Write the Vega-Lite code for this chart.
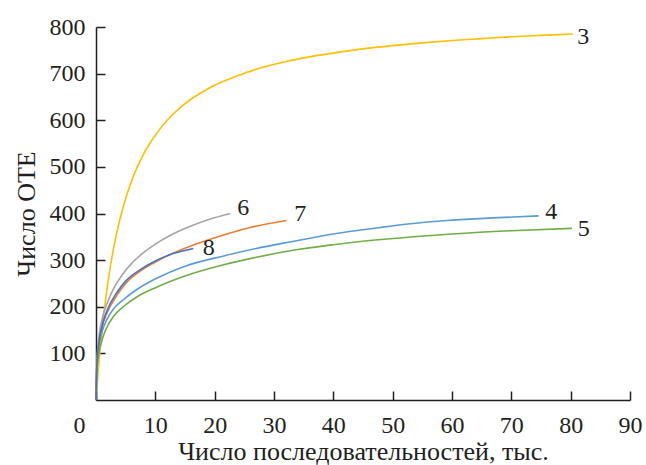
{
  "$schema": "https://vega.github.io/schema/vega-lite/v6.json",
  "width": 534,
  "height": 373,
  "autosize": "none",
  "padding": {"left": 96, "top": 27, "right": 16, "bottom": 65},
  "background": "white",
  "config": {
    "view": {"stroke": null},
    "font": "Liberation Serif",
    "axis": {
      "grid": false,
      "domainColor": "#231f20",
      "domainWidth": 1.5,
      "tickColor": "#231f20",
      "tickWidth": 1.5,
      "tickSize": -9,
      "labelFont": "Liberation Serif",
      "labelFontSize": 24,
      "labelColor": "#231f20",
      "titleFont": "Liberation Serif",
      "titleFontSize": 26,
      "titleFontWeight": "normal",
      "titleColor": "#231f20"
    }
  },
  "datasets": {
    "curves": [
      {"s": "3", "x": 0, "y": 0}, {"s": "3", "x": 0.2, "y": 35}, {"s": "3", "x": 0.5, "y": 81}, {"s": "3", "x": 1, "y": 148}, {"s": "3", "x": 1.5, "y": 204}, {"s": "3", "x": 2, "y": 251}, {"s": "3", "x": 3, "y": 328}, {"s": "3", "x": 4, "y": 386}, {"s": "3", "x": 5, "y": 432}, {"s": "3", "x": 6, "y": 470}, {"s": "3", "x": 7, "y": 501}, {"s": "3", "x": 8, "y": 527}, {"s": "3", "x": 9, "y": 549}, {"s": "3", "x": 10, "y": 568}, {"s": "3", "x": 12, "y": 600}, {"s": "3", "x": 14, "y": 625}, {"s": "3", "x": 16, "y": 645}, {"s": "3", "x": 18, "y": 661}, {"s": "3", "x": 20, "y": 675}, {"s": "3", "x": 24, "y": 696}, {"s": "3", "x": 28, "y": 713}, {"s": "3", "x": 32, "y": 726}, {"s": "3", "x": 36, "y": 736}, {"s": "3", "x": 40, "y": 744}, {"s": "3", "x": 45, "y": 753}, {"s": "3", "x": 50, "y": 760}, {"s": "3", "x": 55, "y": 766}, {"s": "3", "x": 60, "y": 771}, {"s": "3", "x": 65, "y": 775}, {"s": "3", "x": 70, "y": 779}, {"s": "3", "x": 75, "y": 782}, {"s": "3", "x": 80.4, "y": 785},
      {"s": "4", "x": 0, "y": 0}, {"s": "4", "x": 0.15, "y": 70}, {"s": "4", "x": 0.5, "y": 115}, {"s": "4", "x": 1, "y": 145}, {"s": "4", "x": 1.8, "y": 172}, {"s": "4", "x": 3, "y": 196}, {"s": "4", "x": 4.6, "y": 215}, {"s": "4", "x": 7, "y": 238}, {"s": "4", "x": 10.2, "y": 261}, {"s": "4", "x": 15, "y": 287}, {"s": "4", "x": 21.5, "y": 309}, {"s": "4", "x": 27, "y": 325}, {"s": "4", "x": 32.7, "y": 339}, {"s": "4", "x": 40, "y": 356}, {"s": "4", "x": 47.9, "y": 370}, {"s": "4", "x": 53, "y": 378}, {"s": "4", "x": 59.1, "y": 385}, {"s": "4", "x": 66, "y": 390}, {"s": "4", "x": 74.6, "y": 395},
      {"s": "5", "x": 0, "y": 0}, {"s": "5", "x": 0.15, "y": 60}, {"s": "5", "x": 0.5, "y": 100}, {"s": "5", "x": 1, "y": 128}, {"s": "5", "x": 1.8, "y": 155}, {"s": "5", "x": 3, "y": 180}, {"s": "5", "x": 4.6, "y": 200}, {"s": "5", "x": 7, "y": 222}, {"s": "5", "x": 10.2, "y": 242}, {"s": "5", "x": 15, "y": 266}, {"s": "5", "x": 21.5, "y": 290}, {"s": "5", "x": 27, "y": 306}, {"s": "5", "x": 32.7, "y": 320}, {"s": "5", "x": 40, "y": 333}, {"s": "5", "x": 47, "y": 343}, {"s": "5", "x": 53.5, "y": 350}, {"s": "5", "x": 60, "y": 356}, {"s": "5", "x": 70, "y": 363}, {"s": "5", "x": 80.2, "y": 368},
      {"s": "6", "x": 0, "y": 0}, {"s": "6", "x": 0.15, "y": 80}, {"s": "6", "x": 0.5, "y": 135}, {"s": "6", "x": 1, "y": 172}, {"s": "6", "x": 1.8, "y": 205}, {"s": "6", "x": 3, "y": 240}, {"s": "6", "x": 4.4, "y": 268}, {"s": "6", "x": 6, "y": 293}, {"s": "6", "x": 8, "y": 316}, {"s": "6", "x": 10.2, "y": 336}, {"s": "6", "x": 12.8, "y": 355}, {"s": "6", "x": 15.8, "y": 372}, {"s": "6", "x": 19, "y": 387}, {"s": "6", "x": 22.6, "y": 400},
      {"s": "7", "x": 0, "y": 0}, {"s": "7", "x": 0.15, "y": 75}, {"s": "7", "x": 0.5, "y": 122}, {"s": "7", "x": 1, "y": 155}, {"s": "7", "x": 1.8, "y": 185}, {"s": "7", "x": 3.5, "y": 224}, {"s": "7", "x": 5, "y": 250}, {"s": "7", "x": 7.4, "y": 276}, {"s": "7", "x": 10, "y": 296}, {"s": "7", "x": 13, "y": 315}, {"s": "7", "x": 17, "y": 335}, {"s": "7", "x": 21.5, "y": 354}, {"s": "7", "x": 26, "y": 370}, {"s": "7", "x": 32.1, "y": 385},
      {"s": "8", "x": 0, "y": 0}, {"s": "8", "x": 0.15, "y": 75}, {"s": "8", "x": 0.5, "y": 124}, {"s": "8", "x": 1, "y": 158}, {"s": "8", "x": 1.8, "y": 190}, {"s": "8", "x": 3.5, "y": 230}, {"s": "8", "x": 5, "y": 255}, {"s": "8", "x": 7.4, "y": 279}, {"s": "8", "x": 10, "y": 298}, {"s": "8", "x": 13, "y": 314}, {"s": "8", "x": 16.4, "y": 325}
    ],
    "labels": [
      {"s": "3", "x": 81.1, "y": 778},
      {"s": "4", "x": 75.7, "y": 403},
      {"s": "5", "x": 81.2, "y": 367},
      {"s": "6", "x": 23.8, "y": 412},
      {"s": "7", "x": 33.4, "y": 399},
      {"s": "8", "x": 18, "y": 326}
    ]
  },
  "layer": [
    {
      "data": {"name": "curves"},
      "mark": {"type": "line", "strokeWidth": 1.6, "interpolate": "monotone", "clip": false},
      "encoding": {
        "x": {
          "field": "x", "type": "quantitative",
          "scale": {"domain": [0, 90], "nice": false},
          "axis": {
            "values": [0, 10, 20, 30, 40, 50, 60, 70, 80, 90],
            "title": "Число последовательностей, тыс.",
            "labelPadding": 22,
            "labelAlign": {"condition": {"test": "datum.value === 0", "value": "right"}, "value": "center"},
            "labelOffset": {"condition": {"test": "datum.value === 0", "value": -11}, "value": 0},
            "titlePadding": 1
          }
        },
        "y": {
          "field": "y", "type": "quantitative",
          "scale": {"domain": [0, 800], "nice": false},
          "axis": {
            "values": [100, 200, 300, 400, 500, 600, 700, 800],
            "title": "Число ОТЕ",
            "labelPadding": 20,
            "titlePadding": 10
          }
        },
        "color": {
          "field": "s", "type": "nominal", "legend": null,
          "scale": {"domain": ["3", "4", "5", "6", "7", "8"], "range": ["#FFC000", "#5B9BD5", "#70AD47", "#A5A5A5", "#ED7D31", "#4472C4"]}
        }
      }
    },
    {
      "data": {"name": "labels"},
      "mark": {"type": "text", "align": "left", "baseline": "middle", "fontSize": 24, "font": "Liberation Serif", "color": "#231f20"},
      "encoding": {
        "x": {"field": "x", "type": "quantitative"},
        "y": {"field": "y", "type": "quantitative"},
        "text": {"field": "s", "type": "nominal"}
      }
    }
  ]
}
